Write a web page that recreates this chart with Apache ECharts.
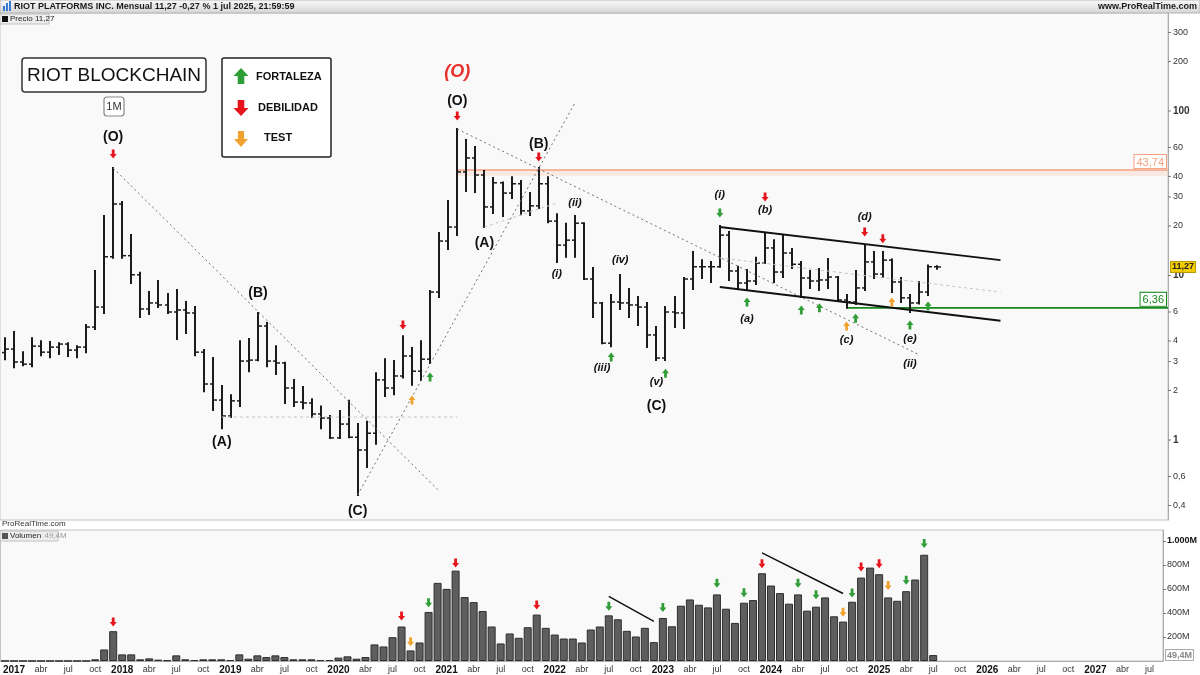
<!DOCTYPE html>
<html>
<head>
<meta charset="utf-8">
<title>RIOT Blockchain - mensual</title>
<script src="https://cdn.jsdelivr.net/npm/echarts@6.0.0/dist/echarts.min.js"></script>
<style>
  html, body { margin: 0; padding: 0; background: #fff; }
  #chart { width: 1200px; height: 675px; }
</style>
</head>
<body>
<div id="chart"></div>
<script>
// months on the time axis: Dec 2016 .. Aug 2027 (bars stop at Jul 2025)
const months = [];
for (let y = 2016, m = 12; y * 100 + m <= 202708; m++) {
  if (m > 12) { m = 1; y++; }
  months.push(y + '-' + String(m).padStart(2, '0'));
}

// monthly OHLC, Dec 2016 .. Jul 2025
const opens = [3.40,
  3.57, 2.98, 2.89, 3.72, 3.42, 3.67, 3.83, 3.52, 3.67, 4.86, 6.43, 13.0,
  27.2, 13.2, 10.1, 6.26, 6.81, 6.62, 6.00, 6.17, 5.92, 3.42, 2.19, 1.75,
  1.40, 1.73, 3.02, 3.06, 4.93, 3.02, 2.94, 2.07, 1.70, 1.68, 1.44, 1.36,
  1.03, 1.25, 1.04, 0.87, 1.10, 2.32, 2.07, 2.45, 3.24, 2.62, 3.10, 7.93,
  16.2, 19.7, 42.6, 51.8, 40.8, 26.1, 36.6, 31.7, 36.1, 24.7, 26.5, 36.1,
  21.4, 15.3, 16.4, 20.8, 9.52, 6.81, 3.88, 6.90, 6.81, 6.62, 6.43, 4.35,
  3.15, 6.00, 5.92, 9.52, 11.3, 11.3, 11.3, 17.6, 10.65, 9.00, 9.26, 11.9,
  14.7, 10.5, 13.7, 11.7, 9.66, 9.26, 9.39, 9.79, 7.10, 6.90, 8.40, 12.1,
  10.2, 12.4, 9.13, 7.31, 6.81, 7.93, 11.3];
const highs = [4.16,
  4.53, 3.42, 4.16, 3.99, 3.94, 3.88, 3.88, 3.72, 5.00, 10.65, 23.0, 45.0,
  28.0, 17.6, 10.4, 7.93, 9.26, 7.72, 8.16, 6.90, 6.43, 3.52, 3.15, 2.13,
  1.87, 3.99, 4.11, 5.92, 5.14, 3.72, 2.95, 2.32, 2.10, 1.77, 1.60, 1.40,
  1.50, 1.73, 1.25, 1.29, 2.55, 3.10, 3.02, 4.27, 3.62, 3.99, 8.05, 18.1,
  28.4, 77.7, 66.6, 60.4, 43.2, 39.1, 36.8, 39.6, 37.5, 31.7, 45.0, 39.6,
  23.6, 20.6, 23.0, 20.8, 11.1, 6.81, 7.61, 10.07, 8.28, 7.40, 6.81, 4.86,
  6.43, 7.40, 9.66, 13.9, 12.4, 12.1, 20.0, 18.4, 11.3, 10.8, 12.8, 18.1,
  16.4, 17.6, 14.5, 12.1, 10.65, 10.95, 12.6, 9.79, 7.61, 10.65, 15.3, 13.9,
  13.9, 12.5, 9.66, 7.61, 9.13, 11.5, 11.4];
const lows = [3.10,
  2.77, 2.85, 2.81, 3.28, 3.19, 3.33, 3.24, 3.19, 3.42, 4.73, 5.92, 12.8,
  12.8, 9.00, 5.59, 5.83, 6.43, 5.92, 4.11, 4.47, 3.28, 1.98, 1.52, 1.18,
  1.38, 1.61, 2.62, 3.05, 2.81, 2.52, 1.68, 1.61, 1.56, 1.38, 1.18, 1.03,
  1.03, 1.04, 0.463, 0.685, 0.95, 1.85, 1.90, 2.40, 2.17, 2.32, 2.94, 7.40,
  14.5, 17.6, 32.6, 32.2, 19.7, 24.0, 23.0, 29.6, 23.6, 23.3, 25.7, 21.1,
  12.1, 13.0, 13.0, 9.52, 5.59, 3.88, 3.72, 6.26, 5.59, 5.00, 3.67, 3.06,
  3.06, 4.86, 4.79, 8.28, 9.66, 9.13, 11.3, 9.39, 8.28, 8.16, 8.88, 11.9,
  9.13, 9.79, 11.1, 7.40, 8.40, 8.16, 8.40, 7.00, 6.36, 6.71, 8.16, 9.66,
  9.79, 7.93, 6.90, 6.00, 6.75, 7.61, 11.0];
const closes = [3.57,
  2.98, 2.89, 3.72, 3.42, 3.67, 3.83, 3.52, 3.67, 4.86, 6.43, 13.0, 27.2,
  13.2, 10.1, 6.26, 6.81, 6.62, 6.00, 6.17, 5.92, 3.42, 2.19, 1.75, 1.40,
  1.73, 3.02, 3.06, 4.93, 3.02, 2.94, 2.07, 1.70, 1.68, 1.44, 1.36, 1.03,
  1.25, 1.04, 0.87, 1.10, 2.32, 2.07, 2.45, 3.24, 2.62, 3.10, 7.93, 16.2,
  19.7, 42.6, 51.8, 40.8, 26.1, 36.6, 31.7, 36.1, 24.7, 26.5, 36.1, 21.4,
  15.3, 16.4, 20.8, 9.52, 6.81, 3.88, 6.90, 6.81, 6.62, 6.43, 4.35, 3.15,
  6.00, 5.92, 9.52, 11.3, 11.3, 11.3, 17.6, 10.65, 9.00, 9.26, 11.9, 14.7,
  10.5, 13.7, 11.7, 9.66, 9.26, 9.39, 9.79, 7.10, 6.90, 8.40, 12.1, 10.2,
  12.4, 9.13, 7.31, 6.81, 7.93, 11.3, 11.27];
// volume in millions
const volumes = [0.3,
  0.3, 0.3, 0.3, 0.3, 0.3, 0.4, 0.4, 0.3, 0.5, 14, 96, 248,
  55, 55, 14, 22, 11, 6, 47, 14, 8, 14, 14, 14,
  8, 55, 19, 47, 33, 47, 33, 14, 14, 14, 8, 8,
  28, 39, 19, 33, 138, 121, 198, 287, 88, 154, 408, 650,
  600, 752, 532, 490, 416, 287, 146, 229, 193, 281, 386, 276,
  220, 187, 187, 154, 262, 287, 380, 347, 251, 204, 276, 157,
  358, 289, 460, 512, 468, 446, 554, 435, 317, 485, 507, 730,
  628, 565, 477, 554, 419, 452, 529, 372, 328, 493, 694, 777,
  722, 529, 501, 581, 678, 884, 49.4];

const priceTicks = [0.4, 0.6, 1, 2, 3, 4, 6, 10, 20, 30, 40, 60, 100, 200, 300];
const boldTicks = [1, 10, 100];

// Elliott wave labels
const waveLabels = [
  ['2017-12', 69.5, '(O)'], ['2019-04', 7.83, '(B)'], ['2018-12', 0.97, '(A)'],
  ['2020-03', 0.37, '(C)'], ['2021-02', 115, '(O)'], ['2021-11', 63.0, '(B)'],
  ['2021-05', 15.8, '(A)'], ['2022-12', 1.61, '(C)']
];
const minorLabels = [
  ['2022-01', 10.2, '(i)'], ['2022-03', 27.6, '(ii)'], ['2022-06', 2.74, '(iii)'],
  ['2022-08', 12.4, '(iv)'], ['2022-12', 2.25, '(v)'], ['2023-07', 30.9, '(i)'],
  ['2023-10', 5.44, '(a)'], ['2023-12', 25.0, '(b)'], ['2024-09', 4.05, '(c)'],
  ['2024-11', 22.7, '(d)'], ['2025-04', 4.1, '(e)'], ['2025-04', 2.9, '(ii)']
];
const redLabels = [['2021-02', 172, '(O)']];

// signal arrows
const priceGreenUp = [['2020-11', 2.42], ['2022-07', 3.20], ['2023-01', 2.55], ['2023-10', 6.90],
  ['2024-04', 6.17], ['2024-06', 6.36], ['2024-10', 5.5], ['2025-04', 5.0], ['2025-06', 6.53]];
const priceGreenDown = [['2023-07', 24.0]];
const priceRedDown = [['2017-12', 54.8], ['2020-08', 5.0], ['2021-02', 93.2], ['2021-11', 52.5],
  ['2023-12', 30.0], ['2024-11', 18.4], ['2025-01', 16.7]];
const priceOrangeUp = [['2020-09', 1.75], ['2024-09', 4.94], ['2025-02', 6.90]];
const volRedDown = [['2017-12', 325], ['2020-08', 375], ['2021-02', 815], ['2021-11', 466],
  ['2023-12', 810], ['2024-11', 782], ['2025-01', 810]];
const volGreenDown = [['2020-11', 485], ['2022-07', 455], ['2023-01', 446], ['2023-07', 647],
  ['2023-10', 567], ['2024-04', 647], ['2024-06', 551], ['2024-10', 565], ['2025-04', 672], ['2025-06', 978]];
const volOrangeDown = [['2020-09', 160], ['2024-09', 405], ['2025-02', 628]];

// trend lines [start, end, kind]
const trendLines = [
  [['2017-12', 45.0], ['2020-12', 0.49], 'dot'],
  [['2020-03', 0.463], ['2022-03', 112], 'dot'],
  [['2021-02', 77.7], ['2025-05', 3.3], 'dot'],
  [['2018-12', 1.38], ['2021-02', 1.38], 'light'],
  [['2021-05', 19.7], ['2022-01', 27.6], 'light'],
  [['2023-07', 12.8], ['2026-02', 7.93], 'light'],
  [['2023-07', 19.7], ['2026-02', 12.4], 'solid'],
  [['2023-07', 8.5], ['2026-02', 5.3], 'solid']
];
const volumeLines = [
  [['2022-07', 537], ['2022-12', 330]],
  [['2023-12', 900], ['2024-09', 562]]
];

const resistance = 43.74;
const support = 6.36;

const FONT = 'Arial, "Liberation Sans", sans-serif';
const fmtNum = v => String(v).replace('.', ',');
const ARROW_DOWN = 'path://M3,0 L7,0 L7,6 L10,6 L5,12 L0,6 L3,6 Z';
const ARROW_UP = 'path://M5,0 L10,6 L7,6 L7,12 L3,12 L3,6 L0,6 Z';

const ohlc = closes.map((c, i) => [i, opens[i], c, lows[i], highs[i]]);

function renderBar(params, api) {
  const i = api.value(0);
  const o = api.coord([i, api.value(1)]);
  const c = api.coord([i, api.value(2)]);
  const l = api.coord([i, api.value(3)]);
  const h = api.coord([i, api.value(4)]);
  const x = Math.round(h[0]);
  const st = { stroke: '#1b1b1b', lineWidth: 2 };
  return {
    type: 'group',
    children: [
      { type: 'line', shape: { x1: x, y1: h[1] - 1, x2: x, y2: l[1] + 1 }, style: st },
      { type: 'line', shape: { x1: x - 3, y1: o[1], x2: x, y2: o[1] }, style: { stroke: '#1b1b1b', lineWidth: 1.5 } },
      { type: 'line', shape: { x1: x, y1: c[1], x2: x + 4, y2: c[1] }, style: { stroke: '#1b1b1b', lineWidth: 1.5 } }
    ]
  };
}

function renderPriceTick(params, api) {
  const v = api.value(1);
  const y = api.coord([0, v])[1];
  const x = params.coordSys.x + params.coordSys.width;
  return {
    type: 'group',
    children: [
      { type: 'line', shape: { x1: x, y1: y, x2: x + 3, y2: y }, style: { stroke: '#777', lineWidth: 1 } },
      { type: 'text', style: {
        text: fmtNum(v), x: x + 5, y: y, verticalAlign: 'middle', fill: '#333',
        fontSize: boldTicks.indexOf(v) >= 0 ? 10 : 9,
        fontWeight: boldTicks.indexOf(v) >= 0 ? 'bold' : 'normal', fontFamily: FONT
      } }
    ]
  };
}

function levelRenderer(color, bandTo) {
  return function (params, api) {
    const start = api.coord([api.value(0), api.value(1)]);
    const right = params.coordSys.x + params.coordSys.width;
    const kids = [];
    if (bandTo) {
      const yb = api.coord([0, bandTo])[1];
      kids.push({ type: 'rect', shape: { x: start[0], y: start[1], width: right - start[0], height: yb - start[1] },
        style: { fill: 'rgba(250,195,175,0.3)' } });
    }
    kids.push({ type: 'line', shape: { x1: start[0], y1: start[1], x2: right, y2: start[1] },
      style: { stroke: color, lineWidth: 1.6 } });
    kids.push({ type: 'text', style: {
      text: fmtNum(api.value(1)), x: right - 2, y: start[1] - 2, align: 'right', verticalAlign: 'bottom',
      fontSize: 11, fontFamily: FONT, fill: color, backgroundColor: '#fff',
      borderColor: color, borderWidth: 1, padding: [2, 2, 0, 2]
    } });
    return { type: 'group', children: kids };
  };
}

function tagRenderer(bg, fg, border, size) {
  return function (params, api) {
    const y = api.coord([0, api.value(1)])[1];
    const x = params.coordSys.x + params.coordSys.width;
    return { type: 'text', style: {
      text: params.dataIndex === 0 ? api.value(2) : '', x: x + 3, y: y, verticalAlign: 'middle',
      fontSize: size, fontWeight: 'bold', fontFamily: FONT, fill: fg, backgroundColor: bg,
      borderColor: border, borderWidth: 1, padding: [1, 1, 0, 1]
    } };
  };
}

function labelSeries(list, style) {
  return {
    type: 'scatter', xAxisIndex: 0, yAxisIndex: 0, symbolSize: 0, silent: true, z: 6,
    itemStyle: { opacity: 1 },
    data: list.map(d => ({ value: [d[0], d[1]], name: d[2] })),
    label: Object.assign({ show: true, position: 'inside', formatter: '{b}', fontFamily: FONT }, style)
  };
}

function arrowSeries(list, symbol, color, axis) {
  return {
    type: 'scatter', xAxisIndex: axis, yAxisIndex: axis, symbol: symbol, symbolSize: [7, 9],
    silent: true, z: 6, itemStyle: { color: color, opacity: 1 }, data: list
  };
}

const lineStyles = {
  dot: { color: '#707070', width: 1, type: [2, 3] },
  light: { color: '#c4c4c4', width: 1, type: [3, 3] },
  solid: { color: '#111', width: 2, type: 'solid' }
};

const series = [
  { type: 'custom', name: 'Precio', xAxisIndex: 0, yAxisIndex: 0, renderItem: renderBar, data: ohlc, z: 4, silent: true },
  { type: 'custom', xAxisIndex: 0, yAxisIndex: 0, renderItem: levelRenderer('#f6a17f', 40.2),
    data: [['2021-02', resistance]], clip: false, silent: true, z: 3 },
  { type: 'custom', xAxisIndex: 0, yAxisIndex: 0, renderItem: levelRenderer('#17891c', null),
    data: [['2024-09', support]], clip: false, silent: true, z: 3 },
  { type: 'custom', xAxisIndex: 0, yAxisIndex: 0, renderItem: renderPriceTick,
    data: priceTicks.map(v => [0, v]), clip: false, silent: true, z: 8 },
  { type: 'custom', xAxisIndex: 0, yAxisIndex: 0, renderItem: tagRenderer('#f3cd00', '#222', '#b89b00', 9),
    data: [[0, closes[closes.length - 1], fmtNum(closes[closes.length - 1])]], clip: false, silent: true, z: 9 },
  { type: 'bar', name: 'Volumen', xAxisIndex: 1, yAxisIndex: 1, data: volumes, barWidth: 8, silent: true,
    itemStyle: { color: '#5e5e5e', borderColor: '#2e2e2e', borderWidth: 1 } },
  { type: 'custom', xAxisIndex: 1, yAxisIndex: 1, renderItem: tagRenderer('#fff', '#888', '#aaa', 9),
    data: [[0, volumes[volumes.length - 1], fmtNum(volumes[volumes.length - 1]) + 'M']], clip: false, silent: true, z: 9 },
  labelSeries(waveLabels, { fontSize: 14, fontWeight: 'bold', color: '#111' }),
  labelSeries(minorLabels, { fontSize: 11, fontWeight: 'bold', fontStyle: 'italic', color: '#111' }),
  labelSeries(redLabels, { fontSize: 18, fontStyle: 'italic', fontWeight: 'bold', color: '#e8302c' }),
  arrowSeries(priceGreenUp, ARROW_UP, '#2f9e36', 0),
  arrowSeries(priceGreenDown, ARROW_DOWN, '#2f9e36', 0),
  arrowSeries(priceRedDown, ARROW_DOWN, '#e8141b', 0),
  arrowSeries(priceOrangeUp, ARROW_UP, '#f0a22e', 0),
  arrowSeries(volRedDown, ARROW_DOWN, '#e8141b', 1),
  arrowSeries(volGreenDown, ARROW_DOWN, '#2f9e36', 1),
  arrowSeries(volOrangeDown, ARROW_DOWN, '#f0a22e', 1)
];

trendLines.forEach(t => {
  series.push({
    type: 'line', xAxisIndex: 0, yAxisIndex: 0, data: [t[0], t[1]], showSymbol: false, silent: true, z: 5,
    lineStyle: lineStyles[t[2]]
  });
});
volumeLines.forEach(t => {
  series.push({
    type: 'line', xAxisIndex: 1, yAxisIndex: 1, data: [t[0], t[1]], showSymbol: false, silent: true, z: 5,
    lineStyle: { color: '#111', width: 1.5 }
  });
});

function arrowPoints(cx, top, w, h, up) {
  const s = w * 0.22, hh = h * 0.5;
  const pts = [[cx, 0], [cx + w / 2, hh], [cx + s, hh], [cx + s, h], [cx - s, h], [cx - s, hh], [cx - w / 2, hh]];
  return pts.map(p => [p[0], up ? top + p[1] : top + h - p[1]]);
}

const monthNames = { '04': 'abr', '07': 'jul', '10': 'oct' };

const chart = echarts.init(document.getElementById('chart'), null, { renderer: 'canvas' });
chart.setOption({
  backgroundColor: '#ffffff',
  animation: false,
  textStyle: { fontFamily: FONT },
  grid: [
    { left: 0, right: 32, top: 13, height: 507, show: true, backgroundColor: '#f9f9f9', borderColor: '#c4c4c4', borderWidth: 1 },
    { left: 0, right: 32, top: 530, height: 132, show: true, backgroundColor: '#f9f9f9', borderColor: '#c4c4c4', borderWidth: 1 }
  ],
  xAxis: [
    { type: 'category', gridIndex: 0, data: months, boundaryGap: true,
      axisLine: { show: false }, axisTick: { show: false }, axisLabel: { show: false }, splitLine: { show: false } },
    { type: 'category', gridIndex: 1, data: months, boundaryGap: true,
      axisLine: { lineStyle: { color: '#aaa' } }, axisTick: { show: false },
      axisLabel: {
        fontSize: 9, color: '#333', margin: 4,
        interval: (i, v) => v.slice(5) === '01' || !!monthNames[v.slice(5)],
        formatter: v => v.slice(5) === '01' ? '{y|' + v.slice(0, 4) + '}' : monthNames[v.slice(5)],
        rich: { y: { fontSize: 10, fontWeight: 'bold', color: '#111' } }
      } }
  ],
  yAxis: [
    { type: 'log', logBase: 10, gridIndex: 0, position: 'right', min: 0.3265, max: 394,
      axisLine: { show: true, lineStyle: { color: '#aaa' } }, axisTick: { show: false },
      axisLabel: { show: false }, splitLine: { show: false } },
    { type: 'value', gridIndex: 1, position: 'right', min: 0, max: 1090, interval: 200,
      axisLine: { show: true, lineStyle: { color: '#aaa' } },
      axisTick: { show: true, length: 3, lineStyle: { color: '#777' } },
      axisLabel: { fontSize: 9, color: '#333', margin: 4, showMinLabel: false, showMaxLabel: false,
        formatter: v => v === 1000 ? '{b|1.000M}' : v + 'M',
        rich: { b: { fontSize: 9, fontWeight: 'bold', color: '#111' } } },
      splitLine: { show: false } }
  ],
  graphic: [
    // header strip
    { type: 'rect', shape: { x: 0, y: 0, width: 1200, height: 13 }, z: 20,
      style: { fill: new echarts.graphic.LinearGradient(0, 0, 0, 1, [{ offset: 0, color: '#fbfbfb' }, { offset: 1, color: '#d4d4d4' }]), stroke: '#b5b5b5' } },
    { type: 'rect', shape: { x: 3, y: 6, width: 2, height: 5 }, style: { fill: '#3a7bd5' }, z: 21 },
    { type: 'rect', shape: { x: 6, y: 3, width: 2, height: 8 }, style: { fill: '#3a7bd5' }, z: 21 },
    { type: 'rect', shape: { x: 9, y: 1, width: 2, height: 10 }, style: { fill: '#3a7bd5' }, z: 21 },
    { type: 'text', x: 14, y: 7, z: 21, style: { text: 'RIOT PLATFORMS INC. Mensual 11,27 -0,27 % 1 jul 2025, 21:59:59',
      font: 'bold 9px ' + FONT, fill: '#1a1a1a', verticalAlign: 'middle' } },
    { type: 'text', x: 1197, y: 7, z: 21, style: { text: 'www.ProRealTime.com', font: 'bold 9px ' + FONT,
      fill: '#1a1a1a', align: 'right', verticalAlign: 'middle' } },
    // price legend
    { type: 'rect', shape: { x: 0, y: 14, width: 49, height: 10 }, style: { fill: '#ededed', stroke: '#c0c0c0' }, z: 20 },
    { type: 'rect', shape: { x: 2, y: 16, width: 6, height: 6 }, style: { fill: '#111' }, z: 21 },
    { type: 'text', x: 10, y: 19, z: 21, style: { text: 'Precio 11,27', font: '8px ' + FONT, fill: '#222', verticalAlign: 'middle' } },
    // volume legend
    { type: 'rect', shape: { x: 0, y: 531, width: 58, height: 10 }, style: { fill: '#ededed', stroke: '#c0c0c0' }, z: 20 },
    { type: 'rect', shape: { x: 2, y: 533, width: 6, height: 6 }, style: { fill: '#555' }, z: 21 },
    { type: 'text', x: 10, y: 536, z: 21, style: { text: '{a|Volumen} {b|49,4M}', verticalAlign: 'middle',
      rich: { a: { fontSize: 8, fill: '#222', fontFamily: FONT }, b: { fontSize: 8, fill: '#999', fontFamily: FONT } } } },
    { type: 'text', x: 2, y: 524, z: 21, style: { text: 'ProRealTime.com', font: '8px ' + FONT, fill: '#333', verticalAlign: 'middle' } },
    // title box
    { type: 'rect', shape: { x: 22, y: 58, width: 184, height: 34, r: 3 }, style: { fill: '#fff', stroke: '#333', lineWidth: 1.5 }, z: 20 },
    { type: 'text', x: 114, y: 76, z: 21, style: { text: 'RIOT BLOCKCHAIN', font: '19px ' + FONT, fill: '#111', align: 'center', verticalAlign: 'middle' } },
    { type: 'rect', shape: { x: 104, y: 97, width: 20, height: 19, r: 3 }, style: { fill: '#fff', stroke: '#888', lineWidth: 1.2 }, z: 20 },
    { type: 'text', x: 114, y: 107, z: 21, style: { text: '1M', font: '11px ' + FONT, fill: '#333', align: 'center', verticalAlign: 'middle' } },
    // signal legend
    { type: 'rect', shape: { x: 222, y: 58, width: 109, height: 99, r: 2 }, style: { fill: '#fff', stroke: '#222', lineWidth: 1.5 }, z: 20 },
    { type: 'polygon', shape: { points: arrowPoints(241, 68, 15, 16, true) }, style: { fill: '#2f9e36' }, z: 21 },
    { type: 'polygon', shape: { points: arrowPoints(241, 100, 15, 16, false) }, style: { fill: '#e8141b' }, z: 21 },
    { type: 'polygon', shape: { points: arrowPoints(241, 131, 14, 16, false) }, style: { fill: '#f0a22e' }, z: 21 },
    { type: 'text', x: 256, y: 77, z: 21, style: { text: 'FORTALEZA', font: 'bold 11px ' + FONT, fill: '#111', verticalAlign: 'middle' } },
    { type: 'text', x: 258, y: 108, z: 21, style: { text: 'DEBILIDAD', font: 'bold 11px ' + FONT, fill: '#111', verticalAlign: 'middle' } },
    { type: 'text', x: 264, y: 138, z: 21, style: { text: 'TEST', font: 'bold 11px ' + FONT, fill: '#111', verticalAlign: 'middle' } }
  ],
  series: series
});
</script>
</body>
</html>
